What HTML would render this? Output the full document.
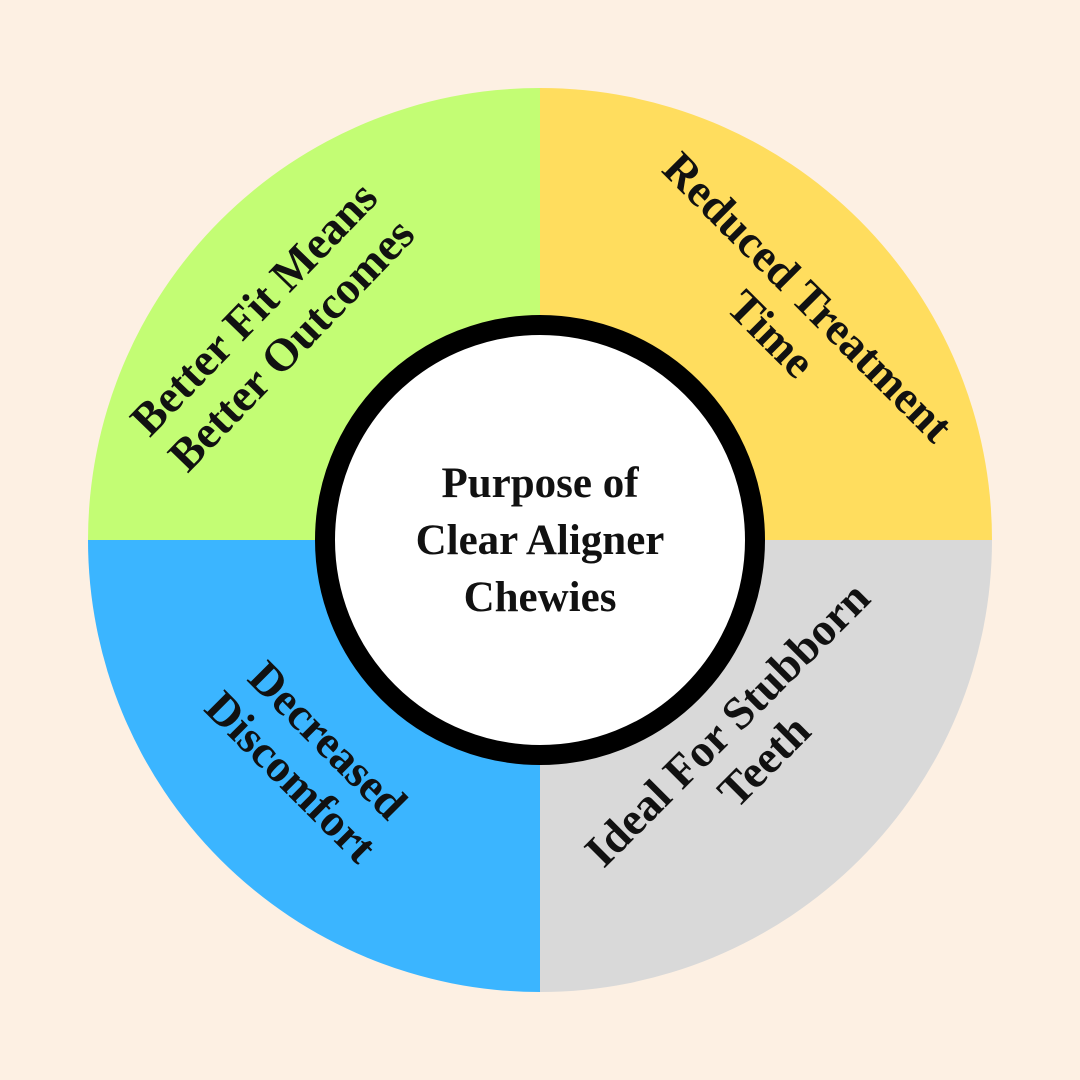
<!DOCTYPE html>
<html><head><meta charset="utf-8"><style>
body{margin:0;background:#fdf0e3;}
svg{display:block}
text{font-family:"Liberation Serif",serif;font-weight:bold;fill:#111;}
</style></head><body>
<svg width="1080" height="1080" viewBox="0 0 1080 1080">
<rect width="1080" height="1080" fill="#fdf0e3"/>
<path d="M540 540 L88 540 A452 452 0 0 1 540 88 Z" fill="#c3fd74"/>
<path d="M540 540 L540 88 A452 452 0 0 1 992 540 Z" fill="#ffdd5e"/>
<path d="M540 540 L992 540 A452 452 0 0 1 540 992 Z" fill="#d9d9d9"/>
<path d="M540 540 L540 992 A452 452 0 0 1 88 540 Z" fill="#3bb5ff"/>
<circle cx="540" cy="540" r="215" fill="#fff" stroke="#000" stroke-width="20"/>
<g font-size="43" text-anchor="middle">
<text x="540" y="497">Purpose  of</text>
<text x="540" y="554">Clear Aligner</text>
<text x="540" y="611">Chewies</text>
</g>
<g font-size="46" text-anchor="middle">
<g transform="translate(272,326) rotate(-46)">
<text x="0" y="-10">Better Fit Means</text>
<text x="0" y="42">Better Outcomes</text>
</g>
<g transform="translate(790,315) rotate(45)">
<text x="0" y="-10">Reduced Treatment</text>
<text x="0" y="42">Time</text>
</g>
<g transform="translate(310,758) rotate(45)">
<text x="0" y="-10">Decreased</text>
<text x="0" y="42">Discomfort</text>
</g>
<g transform="translate(745,742) rotate(-45)">
<text x="0" y="-10">Ideal For Stubborn</text>
<text x="0" y="42">Teeth</text>
</g>
</g>
</svg>
</body></html>
